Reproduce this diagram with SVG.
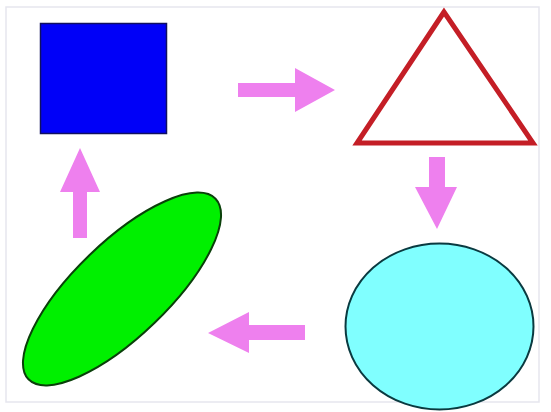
<svg xmlns="http://www.w3.org/2000/svg" width="551" height="412" viewBox="0 0 551 412">
<style>
.arrow{fill:#ee80ee;stroke:none}
.frame{fill:none;stroke:#e6e6ee;stroke-width:1.5}
</style>
<rect x="0" y="0" width="551" height="412" fill="#ffffff"/>
<rect class="frame" x="6" y="7" width="533" height="395"/>
<g id="connectors">
<polygon class="arrow" points="238,83 295,83 295,68 335,90 295,112 295,97 238,97"/>
<polygon class="arrow" points="429,157 445,157 445,187 457,187 437,229 415,187 429,187"/>
<polygon class="arrow" points="305,325 305,340 249,340 249,353 208,333 249,312 249,325"/>
<polygon class="arrow" points="73,238 87,238 87,192 100,192 80,148 60,192 73,192"/>
</g>
<g id="square">
<rect x="40.5" y="23.5" width="126" height="110" fill="#0000f8" stroke="#101060" stroke-width="1.5"/>
</g>
<g id="triangle">
<polygon points="444,12 357,143 533,143" fill="none" stroke="#c41e26" stroke-width="5" stroke-linejoin="miter"/>
</g>
<g id="circle">
<ellipse cx="439.5" cy="326.5" rx="94" ry="83" fill="#80ffff" stroke="#0a3a40" stroke-width="2"/>
</g>
<g id="ellipse">
<ellipse cx="0" cy="0" rx="130" ry="47" transform="translate(122,289) rotate(-44)" fill="#00f000" stroke="#0a400a" stroke-width="2"/>
</g>
</svg>
